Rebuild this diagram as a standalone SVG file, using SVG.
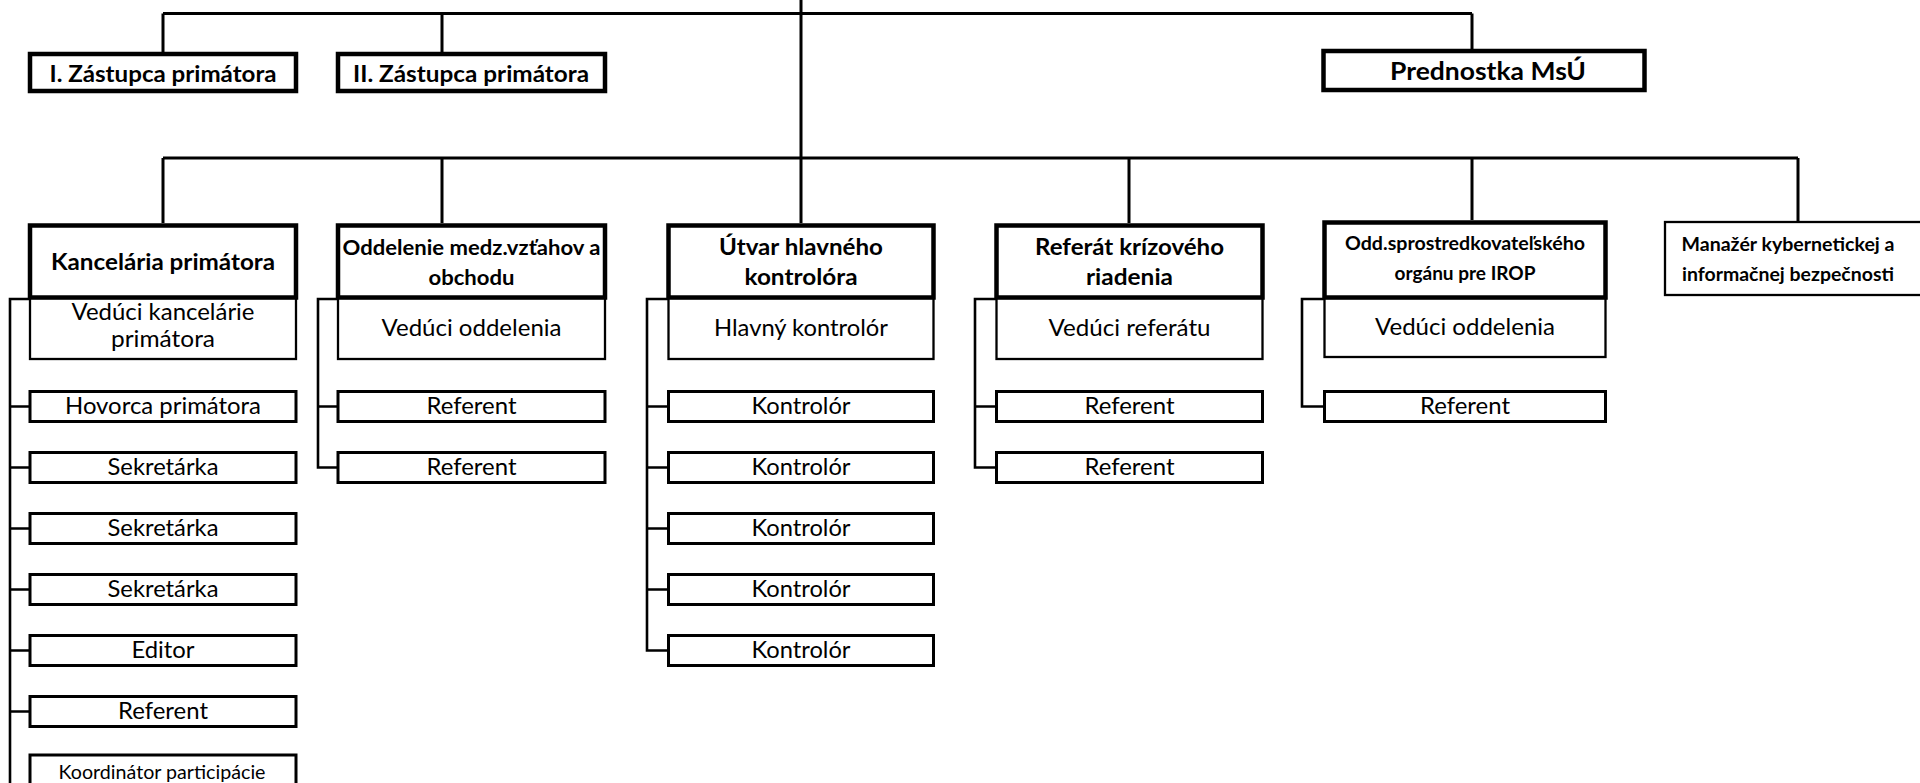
<svg xmlns="http://www.w3.org/2000/svg" width="1920" height="783" viewBox="0 0 1920 783">
<style>
  .bg{fill:#fff}
  .thick{fill:#fff;stroke:#000;stroke-width:4.5}
  .thin{fill:#fff;stroke:#000;stroke-width:2.3}
  .sm{fill:#fff;stroke:#000;stroke-width:3}
  .ln{fill:none;stroke:#000;stroke-width:3}
  .cl{fill:none;stroke:#000;stroke-width:2.6}
  text{font-family:Lato,"Open Sans","Liberation Sans",sans-serif;fill:#000;text-anchor:middle}
  .b{font-weight:bold;font-size:23px}
  .bs{font-weight:bold;font-size:19px}
  .r{font-size:24px}
  .rs{font-size:20px}
</style>
<rect class="bg" x="0" y="0" width="1920" height="783"/>

<g id="connectors">
  <path class="ln" d="M163 13.5 H1472 M163 13.5 V52 M442 13.5 V52 M1472 13.5 V49 M801 0 V158"/>
  <path class="ln" d="M163 158 H1798 M163 158 V223 M442 158 V223 M801 158 V223 M1129 158 V223 M1472 158 V220 M1798 158 V221"/>
  <path class="cl" d="M30 299 H10 V783 M10 406.5 H30 M10 467.5 H30 M10 528.5 H30 M10 589.5 H30 M10 650.5 H30 M10 711.5 H30"/>
  <path class="cl" d="M338 299 H318 V467.5 H338 M318 406.5 H338"/>
  <path class="cl" d="M668 299 H647 V650.5 H668 M647 406.5 H668 M647 467.5 H668 M647 528.5 H668 M647 589.5 H668"/>
  <path class="cl" d="M996 299 H975 V467.5 H996 M975 406.5 H996"/>
  <path class="cl" d="M1324 299 H1302 V406.5 H1324"/>
</g>

<g id="zastupca1"><rect class="thick" x="30" y="54" width="266" height="37"/><text class="b" x="163" y="82" textLength="227" lengthAdjust="spacingAndGlyphs">I. Zástupca primátora</text></g>
<g id="zastupca2"><rect class="thick" x="338" y="54" width="267" height="37"/><text class="b" x="471" y="82" textLength="236" lengthAdjust="spacingAndGlyphs">II. Zástupca primátora</text></g>
<g id="prednostka"><rect class="thick" x="1323.5" y="51" width="321" height="39"/><text class="b" x="1488" y="80" style="font-size:25.5px" textLength="196" lengthAdjust="spacingAndGlyphs">Prednostka MsÚ</text></g>

<!-- second level boxes -->
<g id="veduci-kancelarie"><rect class="thin" x="30" y="298" width="266" height="61"/><text class="r" x="163" y="320" textLength="183" lengthAdjust="spacingAndGlyphs">Vedúci kancelárie</text><text class="r" x="163" y="347" textLength="104" lengthAdjust="spacingAndGlyphs">primátora</text></g>
<g id="veduci-oddelenia-1"><rect class="thin" x="338" y="298" width="267" height="61"/><text class="r" x="471.5" y="336" textLength="180" lengthAdjust="spacingAndGlyphs">Vedúci oddelenia</text></g>
<g id="hlavny-kontrolor"><rect class="thin" x="668.5" y="298" width="265" height="61"/><text class="r" x="801" y="336" textLength="174" lengthAdjust="spacingAndGlyphs">Hlavný kontrolór</text></g>
<g id="veduci-referatu"><rect class="thin" x="996.5" y="298" width="266" height="61"/><text class="r" x="1129.5" y="336" textLength="162" lengthAdjust="spacingAndGlyphs">Vedúci referátu</text></g>
<g id="veduci-oddelenia-2"><rect class="thin" x="1324.5" y="298" width="281" height="59"/><text class="r" x="1465" y="335" textLength="180" lengthAdjust="spacingAndGlyphs">Vedúci oddelenia</text></g>

<!-- heads -->
<g id="kancelaria"><rect class="thick" x="30" y="225.5" width="266" height="72"/><text class="b" x="163" y="270" textLength="224" lengthAdjust="spacingAndGlyphs">Kancelária primátora</text></g>
<g id="oddelenie-medz"><rect class="thick" x="338" y="225.5" width="267" height="72"/><text class="b" x="471.5" y="255" style="font-size:21px" textLength="258" lengthAdjust="spacingAndGlyphs">Oddelenie medz.vzťahov a</text><text class="b" x="471.5" y="285" style="font-size:21px" textLength="86" lengthAdjust="spacingAndGlyphs">obchodu</text></g>
<g id="utvar"><rect class="thick" x="668.5" y="225.5" width="265" height="72"/><text class="b" x="801" y="255" textLength="164" lengthAdjust="spacingAndGlyphs">Útvar hlavného</text><text class="b" x="801" y="285" textLength="113" lengthAdjust="spacingAndGlyphs">kontrolóra</text></g>
<g id="referat"><rect class="thick" x="996.5" y="225.5" width="266" height="72"/><text class="b" x="1129.5" y="255" textLength="189" lengthAdjust="spacingAndGlyphs">Referát krízového</text><text class="b" x="1129.5" y="285" textLength="87" lengthAdjust="spacingAndGlyphs">riadenia</text></g>
<g id="odd-irop"><rect class="thick" x="1324.5" y="222.5" width="281" height="75"/><text class="bs" x="1465" y="250" textLength="240" lengthAdjust="spacingAndGlyphs">Odd.sprostredkovateľského</text><text class="bs" x="1465" y="280" textLength="141" lengthAdjust="spacingAndGlyphs">orgánu pre IROP</text></g>
<g id="manazer"><rect class="thin" x="1665" y="222" width="270" height="73"/><text class="bs" x="1788" y="251" textLength="213" lengthAdjust="spacingAndGlyphs">Manažér kybernetickej a</text><text class="bs" x="1788" y="281" textLength="212" lengthAdjust="spacingAndGlyphs">informačnej bezpečnosti</text></g>

<!-- column 1 -->
<g id="hovorca"><rect class="sm" x="30" y="391.5" width="266" height="30"/><text class="r" x="163" y="414" textLength="196" lengthAdjust="spacingAndGlyphs">Hovorca primátora</text></g>
<g id="sekretarka1"><rect class="sm" x="30" y="452.5" width="266" height="30"/><text class="r" x="163" y="475" textLength="111" lengthAdjust="spacingAndGlyphs">Sekretárka</text></g>
<g id="sekretarka2"><rect class="sm" x="30" y="513.5" width="266" height="30"/><text class="r" x="163" y="536" textLength="111" lengthAdjust="spacingAndGlyphs">Sekretárka</text></g>
<g id="sekretarka3"><rect class="sm" x="30" y="574.5" width="266" height="30"/><text class="r" x="163" y="597" textLength="111" lengthAdjust="spacingAndGlyphs">Sekretárka</text></g>
<g id="editor"><rect class="sm" x="30" y="635.5" width="266" height="30"/><text class="r" x="163" y="658" textLength="63" lengthAdjust="spacingAndGlyphs">Editor</text></g>
<g id="referent-k"><rect class="sm" x="30" y="696.5" width="266" height="30"/><text class="r" x="163" y="719" textLength="90" lengthAdjust="spacingAndGlyphs">Referent</text></g>
<g id="koordinator"><rect class="sm" x="30" y="755" width="266" height="40"/><text class="rs" x="162" y="779" textLength="207" lengthAdjust="spacingAndGlyphs">Koordinátor participácie</text></g>

<!-- column 2 -->
<g id="referent-o1"><rect class="sm" x="338" y="391.5" width="267" height="30"/><text class="r" x="471.5" y="414" textLength="90" lengthAdjust="spacingAndGlyphs">Referent</text></g>
<g id="referent-o2"><rect class="sm" x="338" y="452.5" width="267" height="30"/><text class="r" x="471.5" y="475" textLength="90" lengthAdjust="spacingAndGlyphs">Referent</text></g>

<!-- column 3 -->
<g id="kontrolor1"><rect class="sm" x="668.5" y="391.5" width="265" height="30"/><text class="r" x="801" y="414" textLength="99" lengthAdjust="spacingAndGlyphs">Kontrolór</text></g>
<g id="kontrolor2"><rect class="sm" x="668.5" y="452.5" width="265" height="30"/><text class="r" x="801" y="475" textLength="99" lengthAdjust="spacingAndGlyphs">Kontrolór</text></g>
<g id="kontrolor3"><rect class="sm" x="668.5" y="513.5" width="265" height="30"/><text class="r" x="801" y="536" textLength="99" lengthAdjust="spacingAndGlyphs">Kontrolór</text></g>
<g id="kontrolor4"><rect class="sm" x="668.5" y="574.5" width="265" height="30"/><text class="r" x="801" y="597" textLength="99" lengthAdjust="spacingAndGlyphs">Kontrolór</text></g>
<g id="kontrolor5"><rect class="sm" x="668.5" y="635.5" width="265" height="30"/><text class="r" x="801" y="658" textLength="99" lengthAdjust="spacingAndGlyphs">Kontrolór</text></g>

<!-- column 4 -->
<g id="referent-r1"><rect class="sm" x="996.5" y="391.5" width="266" height="30"/><text class="r" x="1129.5" y="414" textLength="90" lengthAdjust="spacingAndGlyphs">Referent</text></g>
<g id="referent-r2"><rect class="sm" x="996.5" y="452.5" width="266" height="30"/><text class="r" x="1129.5" y="475" textLength="90" lengthAdjust="spacingAndGlyphs">Referent</text></g>

<!-- column 5 -->
<g id="referent-i1"><rect class="sm" x="1324.5" y="391.5" width="281" height="30"/><text class="r" x="1465" y="414" textLength="90" lengthAdjust="spacingAndGlyphs">Referent</text></g>
</svg>
